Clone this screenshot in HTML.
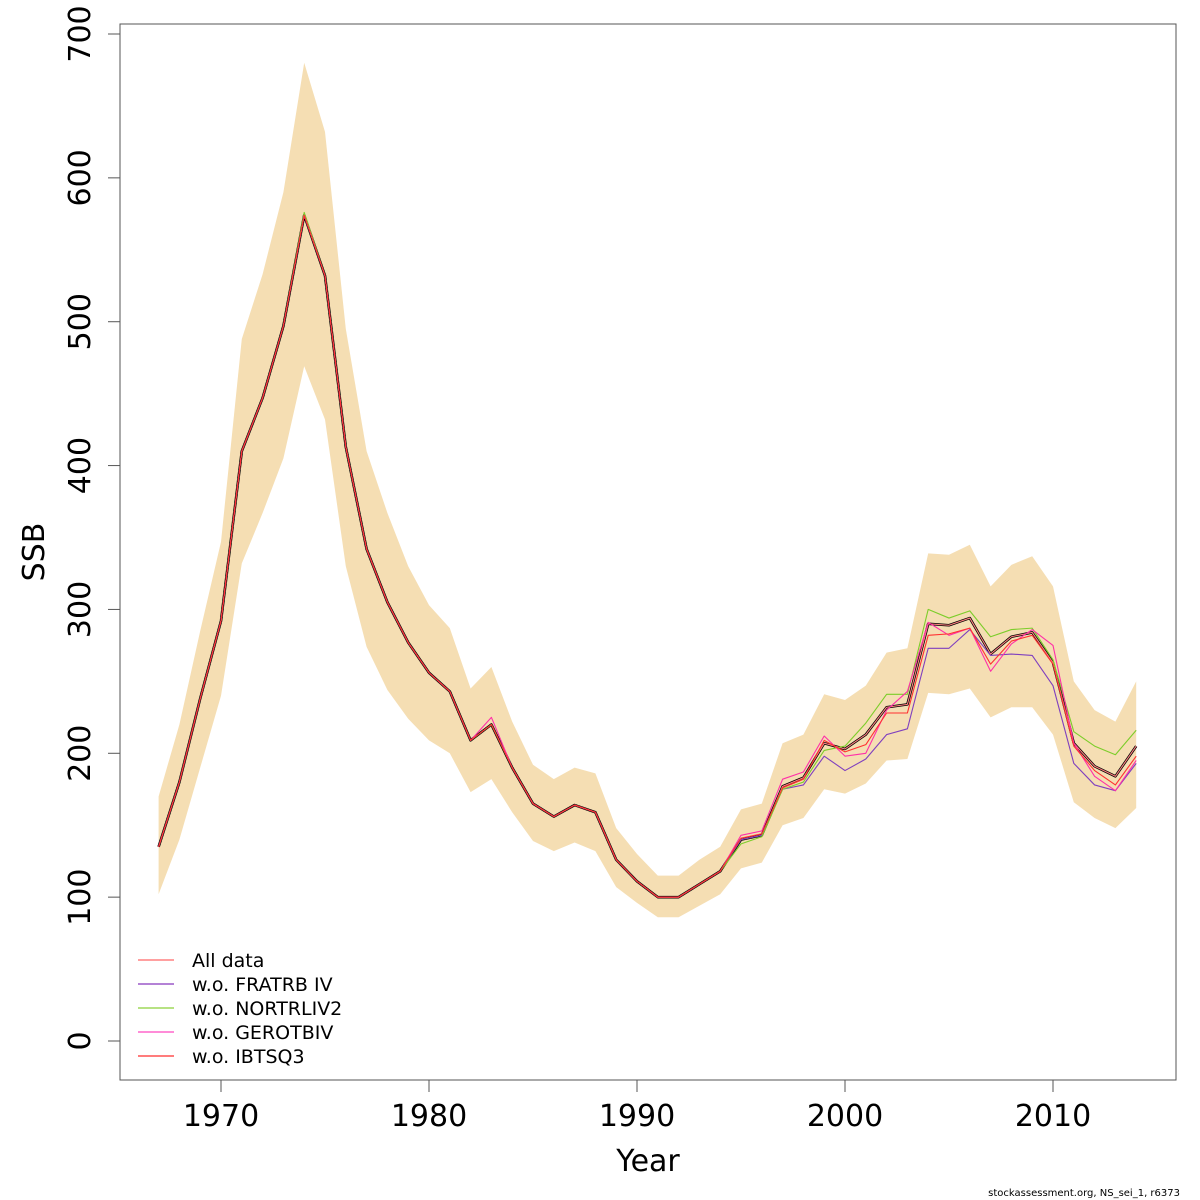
<!DOCTYPE html>
<html><head><meta charset="utf-8"><style>
html,body{margin:0;padding:0;background:#fff;}
svg{display:block;font-family:"DejaVu Sans","Liberation Sans",sans-serif;}
</style></head><body>
<svg id="chart" width="1200" height="1200" viewBox="0 0 1200 1200"></svg>
<script>
const years=[];for(let y=1967;y<=2014;y++)years.push(y);
const baseSSB=[135,180,238,292,410,447,497,574,532,413,342,305,277,256,243,209,220,190,165,156,164,159,126,111,100,100,109,118,140,143,177,183,207,203,213,232,234,290,289,294,269,281,284,263,207,191,184,205];
const upperCI=[170,220,285,347,488,533,590,680,632,495,410,367,330,303,287,245,260,222,192,182,190,186,148,130,115,115,126,135,161,165,207,213,241,237,247,270,273,339,338,345,316,331,337,316,250,230,222,250];
const lowerCI=[102,140,190,240,332,367,405,469,432,330,274,244,224,209,200,173,182,159,139,132,138,132,107,96,86,86,94,102,120,124,150,155,175,172,179,195,196,242,241,245,225,232,232,213,166,155,148,162];
const early=baseSSB.slice(0,28);
const allData=baseSSB.slice();
const woFRATRB=early.concat([140,143,175,178,198,188,196,213,217,273,273,286,268,269,268,247,193,178,174,193]);
const woNORTRL=early.slice(0,7).concat([576]).concat(early.slice(8)).concat([137,142,175,180,202,205,221,241,241,300,294,299,281,286,287,265,215,205,199,216]);
const woGEROTB=early.slice(0,16).concat([225]).concat(early.slice(17)).concat([143,146,182,187,212,198,200,230,243,291,282,287,257,276,286,275,207,184,174,195]);
const woIBTS=early.concat([141,144,176,182,209,201,206,228,228,282,283,287,262,278,282,262,205,188,178,198]);
const yTicks=[0,100,200,300,400,500,600,700];
const xTicks=[1970,1980,1990,2000,2010];
const legendLabels=["All data","w.o. FRATRB IV","w.o. NORTRLIV2","w.o. GEROTBIV","w.o. IBTSQ3"];
const legendColors=["#ff8080","#9b59c9","#9fd85a","#ff66cc","#ff5050"];

const NS="http://www.w3.org/2000/svg";
const svg=document.getElementById('chart');
const X=y=>221+(y-1970)*20.8;
const Y=v=>1041-v*(1007/700);
function mk(tag,attrs,parent){const e=document.createElementNS(NS,tag);for(const k in attrs)e.setAttribute(k,attrs[k]);(parent||svg).appendChild(e);return e;}

let pts=years.map((y,i)=>X(y)+','+Y(upperCI[i])).concat(years.slice().reverse().map((y,j)=>{const i=years.length-1-j;return X(y)+','+Y(lowerCI[i]);}));
const band=mk('polygon',{points:pts.join(' '),fill:'#f5deb3',stroke:'none'});



function line(vals,color,w,name){
  const p=mk('polyline',{points:years.map((y,i)=>X(y)+','+Y(vals[i])).join(' '),fill:'none',stroke:color,'stroke-width':w,'stroke-linejoin':'round'});
  
  
}
line(baseSSB,'#000',2.6,'line-base-ssb');
line(allData,'#ff8080',1.1,'line-all-data');
line(woFRATRB,'#7f3fbf',1.1,'line-wo-fratrb');
line(woNORTRL,'#7ccd2a',1.1,'line-wo-nortrl');
line(woGEROTB,'#ff2fa8',1.1,'line-wo-gerotb');
line(woIBTS,'#ff3030',1.1,'line-wo-ibts');

const box=mk('rect',{x:120,y:24,width:1056,height:1056,fill:'none',stroke:'#555','stroke-width':1});



yTicks.forEach(v=>{
  const t=mk('line',{x1:108,x2:120,y1:Y(v),y2:Y(v),stroke:'#555'});
  
  
  const l=mk('text',{x:90,y:Y(v),'font-size':30,'text-anchor':'middle',transform:`rotate(-90 90 ${Y(v)})`,fill:'#000'});
  l.textContent=v;
  
  
});
xTicks.forEach(v=>{
  const t=mk('line',{x1:X(v),x2:X(v),y1:1080,y2:1092,stroke:'#555'});
  
  
  const l=mk('text',{x:X(v),y:1126,'font-size':30,'text-anchor':'middle',fill:'#000'});
  l.textContent=v;
  
  
});
const xt=mk('text',{x:648,y:1171,'font-size':30,'text-anchor':'middle'});xt.textContent='Year';


const yt=mk('text',{x:44,y:552,'font-size':30,'text-anchor':'middle',transform:'rotate(-90 44 552)'});yt.textContent='SSB';



legendLabels.forEach((lab,i)=>{
  const yy=960+i*24;
  const g=mk('g',{});
  
  
  mk('line',{x1:138,x2:174,y1:yy,y2:yy,stroke:legendColors[i],'stroke-width':1.5},g);
  const t=mk('text',{x:192,y:yy+7,'font-size':19},g);t.textContent=lab;
});
const ft=mk('text',{x:1180,y:1196,'font-size':10,'text-anchor':'end'});ft.textContent='stockassessment.org, NS_sei_1, r6373';


</script>
</body></html>
